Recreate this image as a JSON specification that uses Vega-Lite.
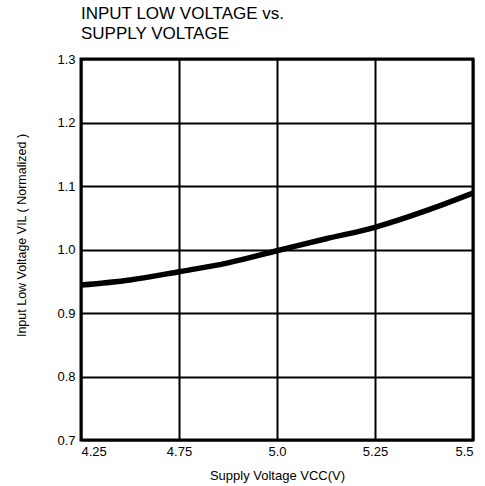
{
  "$schema": "https://vega.github.io/schema/vega-lite/v6.json",
  "autosize": {"type": "none"},
  "padding": {"left": 81, "top": 59, "right": 12, "bottom": 46},
  "width": 392,
  "height": 381,
  "background": "white",
  "title": {
    "text": ["INPUT LOW VOLTAGE vs.", "SUPPLY VOLTAGE"],
    "anchor": "start",
    "frame": "group",
    "font": "Liberation Sans",
    "fontSize": 17,
    "fontWeight": "normal",
    "lineHeight": 20,
    "color": "black",
    "offset": 10
  },
  "config": {
    "view": {"stroke": "black", "strokeWidth": 3},
    "axis": {
      "labelFont": "Liberation Sans",
      "titleFont": "Liberation Sans",
      "labelColor": "black",
      "titleColor": "black",
      "gridColor": "black",
      "gridWidth": 2,
      "gridOpacity": 1,
      "domain": false,
      "ticks": false
    }
  },
  "data": {
    "values": [
      {"vcc": 4.5, "vil": 0.944},
      {"vcc": 4.625, "vil": 0.952},
      {"vcc": 4.75, "vil": 0.965},
      {"vcc": 4.875, "vil": 0.979},
      {"vcc": 5.0, "vil": 0.998},
      {"vcc": 5.125, "vil": 1.017},
      {"vcc": 5.25, "vil": 1.035},
      {"vcc": 5.375, "vil": 1.06},
      {"vcc": 5.5, "vil": 1.089}
    ]
  },
  "mark": {"type": "line", "color": "black", "strokeWidth": 5.5, "interpolate": "monotone", "clip": true},
  "encoding": {
    "x": {
      "field": "vcc",
      "type": "quantitative",
      "scale": {"domain": [4.5, 5.5], "nice": false, "zero": false},
      "axis": {
        "values": [4.5, 4.75, 5.0, 5.25, 5.5],
        "labelExpr": "datum.value == 4.5 ? '4.25' : datum.value == 4.75 ? '4.75' : datum.value == 5 ? '5.0' : datum.value == 5.25 ? '5.25' : '5.5'",
        "labelFlush": true,
        "labelFontSize": 13,
        "labelPadding": 5,
        "title": "Supply Voltage VCC(V)",
        "titleFontSize": 13,
        "titleFontWeight": "normal",
        "titlePadding": 11
      }
    },
    "y": {
      "field": "vil",
      "type": "quantitative",
      "scale": {"domain": [0.7, 1.3], "nice": false, "zero": false},
      "axis": {
        "values": [0.7, 0.8, 0.9, 1.0, 1.1, 1.2, 1.3],
        "format": ".1f",
        "labelFontSize": 13,
        "labelPadding": 6,
        "title": "Input Low Voltage VIL ( Normalized )",
        "titleFontSize": 12.5,
        "titleFontWeight": "normal",
        "titlePadding": 28,
        "titleY": 176
      }
    }
  }
}
